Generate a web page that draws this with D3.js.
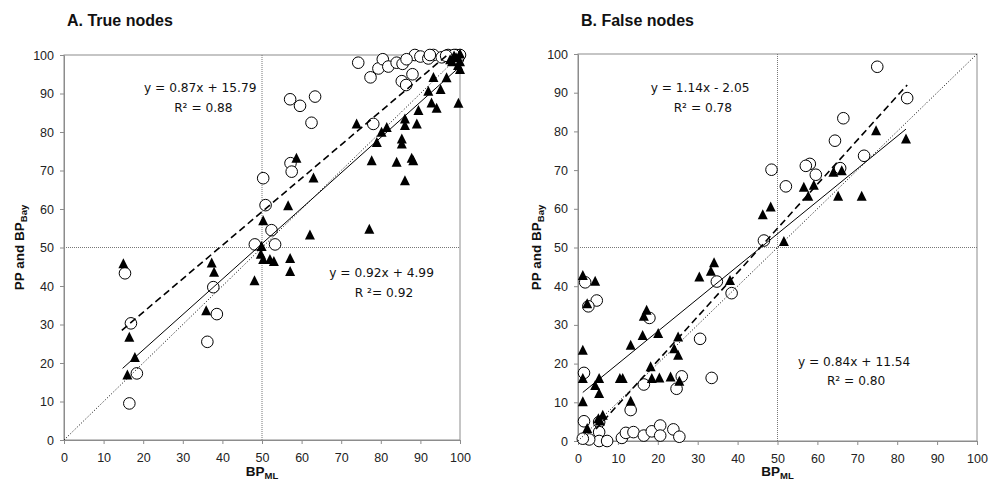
<!DOCTYPE html>
<html>
<head>
<meta charset="utf-8">
<script src="https://cdn.jsdelivr.net/npm/d3@7"></script>
<style>
  body { margin: 0; background: #fff; }
  svg { display: block; }
</style>
</head>
<body>
<div id="chart"></div>
<script>
// Panel titles and equation labels
var panelTitles = ["A. True nodes", "B. False nodes"];
var ticks = [0, 10, 20, 30, 40, 50, 60, 70, 80, 90, 100];

// A. True nodes : circles (PP) and triangles (BP Bay), [BP ML, value]
var trueCircles = [
  [15.4,43.3],[16.9,30.3],[16.5,9.5],[18.4,17.3],[36.2,25.5],[37.7,39.7],[38.6,32.7],
  [48.2,50.8],[50.3,68],[50.9,61],[52.4,54.5],[53.3,50.8],[57.1,88.5],[59.6,86.8],
  [63.4,89.2],[62.5,82.4],[57.2,71.9],[57.5,69.7],[74.3,98],[77.4,94.2],[79.4,96.5],
  [80.5,98.9],[81.9,97],[84,98],[85.5,97.7],[85.3,93.2],[86.4,92.2],[88,95],[88.6,100],
  [86.5,98.9],[90,99.6],[93.3,100],[92,99.1],[95.4,99.4],[78.1,82.1],[97,100],[98,99.5],
  [99,100],[99.5,99],[100,100],[98.5,100],[96.5,99.8],[92.4,100]
];
var trueTriangles = [
  [73.9,81.8],[77.7,72.3],[79,77],[80.2,79.7],[81.5,80.9],[86.1,83.1],[86.1,81.4],
  [85.3,77.9],[85.3,76.6],[84,71.9],[87.8,72.9],[88.2,72.3],[86.1,67.1],[89.1,81.8],
  [89.5,85.3],[92,90.3],[92.8,87.3],[94.1,85.9],[93.3,93.9],[95.1,90.8],[96.6,93.8],
  [99.6,87.2],[98,98],[99,99],[100,100],[100,98],[100,96],[99.5,97],[98.5,99.5],
  [97.5,98.5],[62.1,53],[77.1,54.5],[58.7,72.9],[63,67.8],[56.6,60.6],[50.3,56.7],
  [49.9,50],[49.7,48],[50.3,46.6],[52,46.6],[53,46.1],[57.1,46.9],[57.1,43.5],
  [48.1,41.1],[37.3,45.7],[37.9,43.3],[35.9,33.3],[15,45.5],[16.5,26.4],[17.9,21.2],
  [16,16.6]
];

// B. False nodes
var falseCircles = [
  [1.8,41],[4.7,36.3],[2.6,34.8],[17.9,31.8],[1.5,17.6],[16.5,14.6],[26,16.7],[24.7,13.5],
  [13.2,8],[1.5,5.1],[5.3,4.9],[5.3,2.3],[5.3,0],[2.8,0.4],[1.2,0.6],[7.3,0],[11,0.8],
  [12,2.1],[13.9,2.3],[16.5,1.4],[18.5,2.5],[20.6,4],[20.6,1.4],[23.9,3],[25.4,1.1],
  [34.8,41.2],[38.5,38.2],[30.6,26.4],[33.5,16.3],[75,96.7],[82.5,88.6],[66.5,83.4],
  [64.4,77.6],[71.7,73.7],[65.7,70.5],[58.1,71.6],[57.1,71.1],[59.6,68.8],[48.5,70.1],
  [52.1,65.8],[46.6,51.8]
];
var falseTriangles = [
  [1.2,42.5],[4.3,41],[2.3,35.2],[17.2,33.5],[16.5,32],[16.2,27],[20.1,27.5],[13.2,24.5],
  [1.2,23.2],[25.1,26.6],[24.1,23.6],[25.1,21.9],[18.2,18.9],[1.2,15.9],[5.3,15.9],
  [4.3,14.1],[5.3,12],[10.5,15.9],[11.2,15.9],[18.5,15.9],[20.4,16],[23.2,16.3],
  [25.4,15.2],[13.2,10],[1.2,9.9],[6.2,6.4],[5.1,5.5],[5.5,4.9],[2.3,3],[34.1,45.8],
  [33.3,43.6],[30.4,42.1],[38.1,41.2],[74.7,79.9],[82.2,77.8],[64,69.2],[66.1,69.6],
  [56.6,65.3],[59.1,65.8],[57.7,63],[65.2,63],[71.1,63],[46.3,58.2],[48.3,60.2],[51.6,51.3]
];

// trend lines: [slope, intercept, xFrom, xTo]
var trueCircFit = [0.87, 15.79, 14.6, 100];
var trueTriFit = [0.92, 4.99, 14.8, 100];
var falseCircFit = [1.14, -2.05, 4.5, 82.5];
var falseTriFit = [0.84, 11.54, 1.2, 82.2];

var trueLabels = ["y = 0.87x + 15.79", "R\u00b2 = 0.88", "y = 0.92x + 4.99", "R \u00b2= 0.92"];
var falseLabels = ["y = 1.14x - 2.05", "R\u00b2 = 0.78", "y = 0.84x + 11.54", "R\u00b2 = 0.80"];

var W = 990, H = 495;
var svg = d3.select("#chart").append("svg")
  .attr("width", W).attr("height", H);

var panels = [
  {title: panelTitles[0], circles: trueCircles, tris: trueTriangles,
   circFit: trueCircFit, triFit: trueTriFit, labels: trueLabels,
   left: 64, right: 460, top: 55, bottom: 440, titleX: 67, yTitleX: 23.5,
   // label positions in data units
   lab: [[34.4, 90.4], [35.2, 85.1], [80.2, 42.3], [80.8, 37.1]]},
  {title: panelTitles[1], circles: falseCircles, tris: falseTriangles,
   circFit: falseCircFit, triFit: falseTriFit, labels: falseLabels,
   left: 578, right: 977, top: 54, bottom: 441, titleX: 581, yTitleX: 541,
   lab: [[30.6, 90.2], [31.3, 85], [69.2, 19.5], [69.7, 14.4]]}
];

var triPath = "M0,-6.5L5,3.5L-5,3.5Z";

panels.forEach(function(p, i) {
  var x = d3.scaleLinear().domain([0, 100]).range([p.left, p.right]);
  var y = d3.scaleLinear().domain([0, 100]).range([p.bottom, p.top]);

  // title
  svg.append("text")
    .attr("x", p.titleX).attr("y", 26)
    .style("font-family", "Liberation Sans, Arial, sans-serif")
    .style("font-size", "16px").style("font-weight", "bold")
    .attr("fill", "#111")
    .text(p.title);

  // plot box
  svg.append("rect")
    .attr("x", p.left).attr("y", p.top)
    .attr("width", p.right - p.left).attr("height", p.bottom - p.top)
    .attr("fill", "none").attr("stroke", "#8c8c8c");

  // reference lines at 50
  svg.append("line")
    .attr("x1", x(50)).attr("x2", x(50)).attr("y1", y(0)).attr("y2", y(100))
    .attr("stroke", "#777").attr("stroke-dasharray", "1,1");
  svg.append("line")
    .attr("x1", x(0)).attr("x2", x(100)).attr("y1", y(50)).attr("y2", y(50))
    .attr("stroke", "#777").attr("stroke-dasharray", "1,1");

  // axes
  var gx = svg.append("g")
    .attr("transform", "translate(0," + p.bottom + ")")
    .call(d3.axisBottom(x).tickValues(ticks).tickSize(4).tickSizeOuter(0).tickPadding(9));
  var gy = svg.append("g")
    .attr("transform", "translate(" + p.left + ",0)")
    .call(d3.axisLeft(y).tickValues(ticks).tickSize(4).tickSizeOuter(0).tickPadding(6));
  [gx, gy].forEach(function(g) {
    g.select(".domain").attr("stroke", "#8c8c8c");
    g.selectAll(".tick line").attr("stroke", "#8c8c8c");
    g.selectAll(".tick text")
      .style("font-family", "Liberation Sans, Arial, sans-serif")
      .style("font-size", "12.5px").attr("fill", "#222");
  });

  // axis titles
  var xt = svg.append("text")
    .attr("x", (p.left + p.right) / 2).attr("y", 476)
    .attr("text-anchor", "middle")
    .style("font-family", "Liberation Sans, Arial, sans-serif")
    .style("font-size", "13.5px").style("font-weight", "bold").attr("fill", "#111");
  xt.append("tspan").text("BP");
  xt.append("tspan").attr("dy", 3).style("font-size", "9.5px").text("ML");

  var yt = svg.append("text")
    .attr("transform", "translate(" + p.yTitleX + "," + ((p.top + p.bottom) / 2) + ") rotate(-90)")
    .attr("text-anchor", "middle")
    .style("font-family", "Liberation Sans, Arial, sans-serif")
    .style("font-size", "13.5px").style("font-weight", "bold").attr("fill", "#111");
  yt.append("tspan").text("PP and BP");
  yt.append("tspan").attr("dy", 3).style("font-size", "9.5px").text("Bay");

  // clip for lines
  svg.append("clipPath").attr("id", "clip" + i)
    .append("rect")
    .attr("x", p.left).attr("y", p.top)
    .attr("width", p.right - p.left).attr("height", p.bottom - p.top);

  // markers: circles then triangles
  svg.append("g").selectAll("circle")
    .data(p.circles).enter().append("circle")
    .attr("cx", function(d) { return x(d[0]); })
    .attr("cy", function(d) { return y(d[1]); })
    .attr("r", 5.8)
    .attr("fill", "#fff").attr("stroke", "#000").attr("stroke-width", 1);

  svg.append("g").selectAll("path")
    .data(p.tris).enter().append("path")
    .attr("d", triPath)
    .attr("transform", function(d) { return "translate(" + x(d[0]) + "," + y(d[1]) + ")"; })
    .attr("fill", "#000");

  // lines
  var lg = svg.append("g").attr("clip-path", "url(#clip" + i + ")");
  lg.append("line")
    .attr("x1", x(0)).attr("y1", y(0)).attr("x2", x(100)).attr("y2", y(100))
    .attr("stroke", "#000").attr("stroke-dasharray", "1,2");
  function fitLine(f, dash, w) {
    lg.append("line")
      .attr("x1", x(f[2])).attr("y1", y(f[0] * f[2] + f[1]))
      .attr("x2", x(f[3])).attr("y2", y(f[0] * f[3] + f[1]))
      .attr("stroke", "#000").attr("stroke-width", w)
      .attr("stroke-dasharray", dash);
  }
  fitLine(p.triFit, null, 1);
  fitLine(p.circFit, "7,4", 1.6);

  // equation labels
  p.labels.forEach(function(t, k) {
    svg.append("text")
      .attr("x", x(p.lab[k][0])).attr("y", y(p.lab[k][1]))
      .attr("text-anchor", "middle")
      .style("font-family", "DejaVu Sans, Verdana, sans-serif")
      .style("font-size", "12.2px").attr("fill", "#111")
      .text(t);
  });
});
</script>
</body>
</html>
